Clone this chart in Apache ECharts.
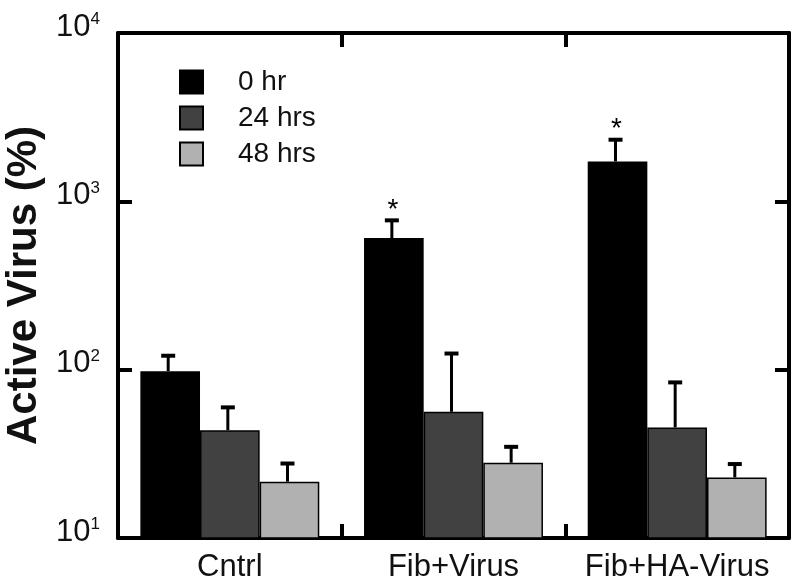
<!DOCTYPE html>
<html>
<head>
<meta charset="utf-8">
<script src="https://cdn.jsdelivr.net/npm/echarts@6/dist/echarts.min.js"></script>
<style>
  html, body { margin: 0; padding: 0; background: #fff; }
  #main { width: 800px; height: 585px; }
</style>
</head>
<body>
<div id="main"></div>
<script>
  // groups on the x axis
  var categories = ['Cntrl', 'Fib+Virus', 'Fib+HA-Virus'];
  var seriesNames = ['0 hr', '24 hrs', '48 hrs'];
  // bar heights (Active Virus %)
  var hr0 = [98, 605, 1726];
  var hr24 = [43.7, 56.2, 45.4];
  var hr48 = [21.6, 28.0, 22.9];
  // upper ends of the error bars
  var hr0Err = [121, 771, 2323];
  var hr24Err = [59.7, 124.7, 84];
  var hr48Err = [27.7, 34.8, 27.5];
  // significance marks above 0 hr bars
  var stars = ['', '*', '*'];

  var colors = ['#000000', '#414141', '#b1b1b1'];
  var font = "'Liberation Sans', Arial, Helvetica, sans-serif";

  var myChart = echarts.init(document.getElementById('main'));

  function errSeries(k, vals, errs, marks) {
    var data = [];
    for (var i = 0; i < vals.length; i++) {
      data.push([i, vals[i], errs[i], marks ? marks[i] : '']);
    }
    return {
      type: 'custom',
      name: seriesNames[k] + ' err',
      xAxisIndex: 0,
      yAxisIndex: 0,
      z: 5,
      silent: true,
      renderItem: function (params, api) {
        var cat = api.value(0);
        var p0 = api.coord([cat, api.value(1)]);
        var p1 = api.coord([cat, api.value(2)]);
        var band = api.coord([1, api.value(1)])[0] - api.coord([0, api.value(1)])[0];
        var bw = band * 0.8 / 3;
        var x = p0[0] + (k - 1) * bw - 2;
        var children = [
          { type: 'line', shape: { x1: x, y1: p0[1], x2: x, y2: p1[1] }, style: { stroke: '#000', lineWidth: 3 } },
          { type: 'line', shape: { x1: x - 7, y1: p1[1], x2: x + 7, y2: p1[1] }, style: { stroke: '#000', lineWidth: 4 } }
        ];
        var mark = data[params.dataIndex][3];
        if (mark) {
          children.push({
            type: 'text',
            style: { x: x + 1, y: p1[1] - 10, text: mark, fill: '#000', font: '28px ' + font, textAlign: 'center', textVerticalAlign: 'middle' }
          });
        }
        return { type: 'group', children: children };
      },
      data: data
    };
  }

  function barSeries(k, vals) {
    return {
      name: seriesNames[k],
      type: 'bar',
      barGap: '0%',
      barCategoryGap: '20%',
      itemStyle: { color: colors[k], borderColor: '#000', borderWidth: 1.5 },
      data: vals
    };
  }

  var axisLineStyle = { show: true, lineStyle: { color: '#000', width: 4 } };
  var tickStyle = { show: true, inside: true, length: 14, interval: 0, lineStyle: { width: 4, color: '#000' } };

  var option = {
    animation: false,
    textStyle: { fontFamily: font },
    grid: { left: 118, right: 11, top: 33, bottom: 47, outerBoundsMode: 'none', containLabel: false },
    legend: {
      data: seriesNames,
      orient: 'vertical',
      left: 174,
      top: 63,
      icon: 'rect',
      itemWidth: 23,
      itemHeight: 23,
      itemGap: 8,
      textStyle: { fontSize: 28, color: '#111', fontFamily: font, padding: [0, 0, 0, 30] }
    },
    xAxis: [{
      type: 'category',
      data: categories,
      position: 'bottom',
      axisLine: axisLineStyle,
      axisTick: tickStyle,
      axisLabel: { interval: 0, fontSize: 31, color: '#111', margin: 14, fontFamily: font }
    }, {
      type: 'category',
      data: categories,
      position: 'top',
      axisLine: axisLineStyle,
      axisTick: tickStyle,
      axisLabel: { show: false }
    }],
    yAxis: [{
      type: 'log',
      logBase: 10,
      min: 10,
      max: 10000,
      position: 'left',
      name: 'Active Virus (%)',
      nameLocation: 'middle',
      nameGap: 72,
      nameTextStyle: { fontSize: 42, fontWeight: 'bold', color: '#111', fontFamily: font },
      axisLine: axisLineStyle,
      axisTick: tickStyle,
      splitLine: { show: false },
      minorTick: { show: false },
      axisLabel: {
        margin: 18,
        padding: [0, 0, 12, 0],
        formatter: function (v) {
          return '{b|10}{s|' + Math.round(Math.log10(v)) + '}';
        },
        rich: {
          b: { fontSize: 31, color: '#111', fontFamily: font, lineHeight: 32 },
          s: { fontSize: 17, color: '#111', fontFamily: font, verticalAlign: 'top', lineHeight: 17 }
        }
      }
    }, {
      type: 'log',
      logBase: 10,
      min: 10,
      max: 10000,
      position: 'right',
      axisLine: axisLineStyle,
      axisTick: tickStyle,
      splitLine: { show: false },
      axisLabel: { show: false }
    }],
    series: [
      barSeries(0, hr0),
      barSeries(1, hr24),
      barSeries(2, hr48),
      errSeries(0, hr0, hr0Err, stars),
      errSeries(1, hr24, hr24Err),
      errSeries(2, hr48, hr48Err)
    ]
  };

  myChart.setOption(option, true);
</script>
</body>
</html>
